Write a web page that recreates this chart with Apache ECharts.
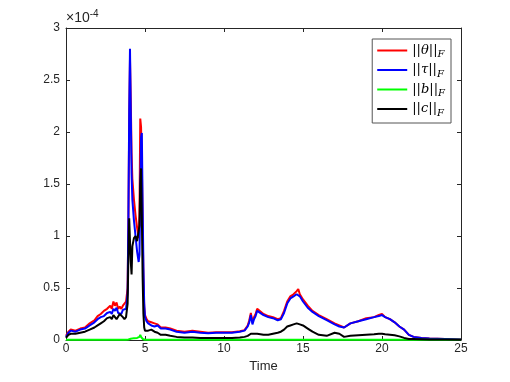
<!DOCTYPE html>
<html>
<head>
<meta charset="utf-8">
<script src="https://cdn.jsdelivr.net/npm/echarts@6/dist/echarts.min.js"></script>
<style>
  html, body { margin: 0; padding: 0; background: #fff; }
  #main { width: 510px; height: 382px; }
</style>
</head>
<body>
<div id="main"></div>
<script>
// values are in units of 1e-4
const time = [0,0.15,0.3,0.6,0.9,1.2,1.5,1.8,2.0,2.2,
  2.4,2.6,2.8,2.9,3.0,3.1,3.2,3.3,3.4,3.5,
  3.6,3.7,3.8,3.9,3.95,4.0,4.05,4.1,4.15,4.2,
  4.3,4.4,4.5,4.6,4.65,4.7,4.75,4.8,4.85,4.9,
  4.95,5.0,5.1,5.2,5.4,5.6,5.8,6.0,6.3,6.6,
  7.0,7.5,8.0,8.5,9.0,9.5,10.0,10.5,11.0,11.3,
  11.5,11.6,11.7,11.8,11.9,12.0,12.1,12.2,12.5,12.8,
  13.1,13.4,13.6,13.8,14.0,14.2,14.4,14.6,14.7,14.8,
  15.0,15.3,15.6,16.0,16.5,17.0,17.3,17.6,18.0,18.5,
  19.0,19.5,19.8,20.0,20.2,20.5,20.8,21.1,21.4,21.7,
  22.0,22.5,23.0,24.0,25.0]

const theta = [0.04,0.08,0.10,0.09,0.11,0.12,0.16,0.19,0.23,0.25,
  0.28,0.30,0.33,0.30,0.37,0.33,0.36,0.30,0.32,0.30,
  0.33,0.34,0.37,0.50,1.15,2.1,2.7,2.3,1.8,1.55,
  1.35,1.2,1.08,0.98,1.2,2.13,2.05,1.7,1.1,0.6,
  0.32,0.24,0.20,0.18,0.17,0.16,0.15,0.12,0.12,0.11,
  0.09,0.08,0.09,0.08,0.07,0.075,0.075,0.075,0.085,0.095,
  0.14,0.19,0.26,0.17,0.22,0.25,0.30,0.29,0.25,0.23,
  0.22,0.20,0.21,0.28,0.37,0.42,0.44,0.47,0.49,0.44,
  0.39,0.33,0.28,0.24,0.20,0.16,0.14,0.12,0.16,0.18,
  0.21,0.22,0.24,0.25,0.22,0.20,0.17,0.13,0.10,0.05,
  0.03,0.02,0.015,0.01,0.005]

const tau = [0.03,0.07,0.09,0.08,0.10,0.11,0.14,0.17,0.20,0.22,
  0.23,0.26,0.27,0.25,0.30,0.28,0.31,0.26,0.27,0.25,
  0.29,0.28,0.30,0.45,1.2,2.2,2.8,2.2,1.6,1.35,
  1.15,1.0,0.85,0.75,0.82,1.4,1.95,1.99,1.3,0.7,
  0.35,0.22,0.18,0.16,0.14,0.13,0.14,0.11,0.11,0.10,
  0.08,0.07,0.08,0.07,0.065,0.07,0.07,0.07,0.08,0.09,
  0.13,0.17,0.24,0.15,0.20,0.23,0.28,0.27,0.24,0.22,
  0.21,0.19,0.20,0.26,0.35,0.40,0.42,0.44,0.45,0.42,
  0.37,0.31,0.27,0.23,0.19,0.15,0.13,0.12,0.16,0.18,
  0.20,0.22,0.23,0.24,0.22,0.20,0.17,0.13,0.10,0.05,
  0.03,0.02,0.015,0.01,0.005]

const bNorm = [0.002,0.002,0.002,0.002,0.002,0.002,0.002,0.002,0.002,0.002,
  0.002,0.002,0.002,0.002,0.002,0.002,0.002,0.002,0.002,0.002,
  0.002,0.002,0.002,0.003,0.005,0.008,0.01,0.012,0.01,0.015,
  0.018,0.02,0.02,0.025,0.03,0.05,0.03,0.02,0.01,0.005,
  0.003,0.002,0.002,0.002,0.002,0.002,0.002,0.002,0.002,0.002,
  0.002,0.002,0.002,0.002,0.002,0.002,0.002,0.002,0.002,0.002,
  0.002,0.002,0.002,0.002,0.002,0.002,0.002,0.002,0.002,0.002,
  0.002,0.002,0.002,0.002,0.002,0.002,0.002,0.002,0.002,0.002,
  0.002,0.002,0.002,0.002,0.002,0.002,0.002,0.002,0.002,0.002,
  0.002,0.002,0.002,0.002,0.002,0.002,0.002,0.002,0.002,0.002,
  0.002,0.002,0.002,0.002,0.002]

const cNorm = [0.02,0.05,0.06,0.06,0.07,0.08,0.10,0.12,0.14,0.16,
  0.18,0.21,0.22,0.20,0.24,0.22,0.20,0.21,0.25,0.26,
  0.22,0.20,0.22,0.35,0.8,1.17,0.95,0.75,0.63,0.9,
  0.98,1.0,0.95,0.95,1.1,1.5,1.65,1.2,0.6,0.25,
  0.12,0.09,0.08,0.09,0.10,0.08,0.07,0.05,0.05,0.04,
  0.03,0.025,0.025,0.02,0.02,0.02,0.02,0.02,0.025,0.03,
  0.04,0.05,0.06,0.05,0.06,0.07,0.06,0.07,0.05,0.05,
  0.06,0.07,0.08,0.10,0.13,0.14,0.15,0.16,0.16,0.15,
  0.14,0.11,0.08,0.05,0.04,0.07,0.06,0.03,0.04,0.045,
  0.05,0.055,0.06,0.06,0.055,0.05,0.045,0.035,0.02,0.01,
  0.01,0.008,0.006,0.005,0.003]

const seriesNames = ['theta', 'tau', 'b', 'c']
const seriesLabels = {
  theta: '||{i|θ}||{s|F}',
  tau: '||{i|τ}||{s|F}',
  b: '||{i|b}||{s|F}',
  c: '||{i|c}||{s|F}'
}
const seriesColors = ['#ff0000', '#0000ff', '#00ff00', '#000000']
const seriesData = [theta, tau, bNorm, cNorm]

const font = 'Liberation Sans, Arial, sans-serif'
const axisColor = '#262626'

let myChart = echarts.init(document.getElementById('main'))

const boxAxis = (pos, isX) => ({
    type: 'value',
    position: pos,
    min: 0,
    max: isX ? 25 : 3,
    interval: isX ? 5 : 0.5,
    axisLine: { show: true, onZero: false, lineStyle: { color: axisColor, width: 1 } },
    axisTick: { show: true, inside: true, length: 4, lineStyle: { color: axisColor } },
    axisLabel: { show: false },
    splitLine: { show: false }
})

let option = {
    backgroundColor: '#fff',
    animation: false,
    grid: { left: 66, right: 49, top: 28, bottom: 42 },
    legend: {
        orient: 'vertical',
        right: 59,
        top: 39,
        itemWidth: 30,
        itemHeight: 2,
        itemGap: 4,
        icon: 'rect',
        padding: [5, 6, 5, 5],
        borderColor: '#555',
        borderWidth: 1,
        backgroundColor: '#fff',
        data: seriesNames,
        formatter: name => seriesLabels[name],
        textStyle: {
            fontFamily: 'DejaVu Serif, serif',
            fontSize: 13,
            color: '#000',
            rich: {
                i: { fontStyle: 'italic', fontFamily: 'DejaVu Serif, serif', fontSize: 13 },
                s: { fontStyle: 'italic', fontFamily: 'DejaVu Serif, serif', fontSize: 10, padding: [8, 0, 0, 0] }
            }
        }
    },
    xAxis: [
        {
            type: 'value',
            min: 0,
            max: 25,
            interval: 5,
            name: 'Time',
            nameLocation: 'middle',
            nameGap: 17,
            nameTextStyle: { fontFamily: font, fontSize: 13, color: axisColor },
            axisLine: { show: true, onZero: false, lineStyle: { color: axisColor, width: 1 } },
            axisTick: { show: true, inside: true, length: 4, lineStyle: { color: axisColor } },
            axisLabel: { fontFamily: font, fontSize: 12, color: axisColor, margin: 3 },
            splitLine: { show: false }
        },
        boxAxis('top', true)
    ],
    yAxis: [
        {
            type: 'value',
            min: 0,
            max: 3,
            interval: 0.5,
            axisLine: { show: true, onZero: false, lineStyle: { color: axisColor, width: 1 } },
            axisTick: { show: true, inside: true, length: 4, lineStyle: { color: axisColor } },
            axisLabel: { fontFamily: font, fontSize: 12, color: axisColor, margin: 6 },
            splitLine: { show: false }
        },
        boxAxis('right', false)
    ],
    graphic: [
        {
            type: 'text',
            left: 66,
            top: 9,
            style: {
                text: '{a|×10}{s|-4}',
                rich: {
                    a: { fontFamily: font, fontSize: 14, fill: axisColor },
                    s: { fontFamily: font, fontSize: 10, fill: axisColor, padding: [0, 0, 8, 0] }
                }
            }
        }
    ],
    series: seriesNames.map((name, k) => ({
        name: name,
        type: 'line',
        showSymbol: false,
        symbol: 'none',
        lineStyle: { width: 2, color: seriesColors[k] },
        itemStyle: { color: seriesColors[k] },
        data: time.map((t, i) => [t, seriesData[k][i]])
    }))
}

myChart.setOption(option)
</script>
</body>
</html>
